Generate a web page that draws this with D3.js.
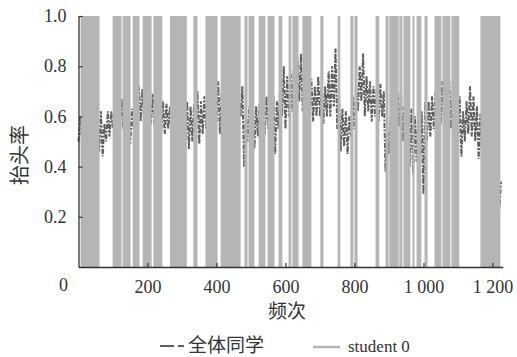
<!DOCTYPE html>
<html>
<head>
<meta charset="utf-8">
<script src="https://cdn.jsdelivr.net/npm/d3@7"></script>
<style>
  body { margin: 0; background: #fff; }
  svg text { fill: #333; }
</style>
</head>
<body>
<svg id="chart" width="517" height="357"></svg>
<script>
// student 0: frame ranges where the 0/1 signal is on (drawn as filled bands)
const studentOn = [
  [6, 61], [99, 125], [128, 151], [157, 177], [186, 212], [217, 243],
  [265, 314], [333, 345], [368, 403], [412, 470], [481, 490], [493, 510],
  [522, 542], [548, 568], [580, 591], [609, 617], [620, 638], [649, 675],
  [701, 710], [751, 759], [788, 797], [800, 809], [861, 872], [890, 899],
  [901, 928], [930, 939], [942, 962], [968, 974], [980, 994], [1003, 1012],
  [1032, 1052], [1055, 1078], [1081, 1104], [1165, 1223]
];

// class average (全体同学): low / high reading per 10-frame bin
const meanFrame = d3.range(0, 1230, 10);
const meanLo = [
  .50, .50, .50, .50, .50, .50, .46, .44, .50, .52,
  .55, .55, .55, .55, .52, .49, .55, .58, .58, .58,
  .58, .57, .56, .55, .54, .53, .55, .52, .52, .52,
  .52, .50, .47, .50, .52, .49, .53, .55, .55, .55,
  .58, .53, .55, .55, .55, .55, .55, .60, .40, .50,
  .47, .47, .52, .52, .53, .55, .47, .45, .55, .60,
  .55, .60, .62, .65, .66, .62, .62, .60, .58, .60,
  .60, .57, .60, .60, .64, .55, .46, .48, .45, .52,
  .55, .62, .66, .60, .62, .58, .60, .58, .60, .38,
  .45, .50, .56, .56, .50, .45, .40, .37, .42, .40,
  .29, .50, .52, .55, .56, .57, .55, .57, .55, .55,
  .50, .44, .50, .53, .52, .50, .43, .42, .40, .36,
  .33, .30, .23
];
const meanHi = [
  .60, .60, .60, .60, .60, .60, .62, .57, .62, .62,
  .63, .65, .67, .65, .64, .63, .68, .72, .71, .70,
  .68, .69, .66, .66, .66, .65, .64, .65, .65, .65,
  .65, .66, .64, .65, .70, .66, .68, .70, .70, .70,
  .74, .70, .68, .68, .68, .68, .68, .72, .61, .64,
  .66, .64, .65, .66, .68, .68, .68, .66, .75, .80,
  .76, .78, .80, .83, .85, .78, .78, .75, .72, .76,
  .72, .72, .78, .80, .87, .70, .63, .62, .60, .68,
  .72, .80, .85, .76, .74, .72, .72, .73, .70, .56,
  .60, .62, .70, .70, .64, .62, .63, .60, .62, .62,
  .66, .66, .68, .70, .72, .74, .72, .74, .70, .70,
  .68, .62, .66, .72, .68, .64, .61, .58, .55, .50,
  .45, .40, .34
];

const xTicks = [200, 400, 600, 800, 1000, 1200];
const yTicks = [0.2, 0.4, 0.6, 0.8, 1.0];

const darkColor = "#5e5e5e";
const lightColor = "#b5b5b5";

const svg = d3.select("#chart");

const x = d3.scaleLinear().domain([0, 1230]).range([78.5, 502.8]);
const y = d3.scaleLinear().domain([0, 1]).range([267, 16]);

// class average line, zigzag between low and high readings
const meanPts = [];
meanFrame.forEach((f, i) => {
  meanPts.push([f, meanLo[i]]);
  meanPts.push([f + 5, meanHi[i]]);
});

svg.append("path")
  .datum(meanPts)
  .attr("fill", "none")
  .attr("stroke", darkColor)
  .attr("stroke-width", 2)
  .attr("stroke-dasharray", "5,1.5,2,1.5")
  .attr("d", d3.line()
    .x(d => x(d[0]))
    .y(d => y(d[1])));

// student 0 bands
svg.selectAll("rect.student")
  .data(studentOn)
  .enter()
  .append("rect")
  .attr("class", "student")
  .attr("fill", lightColor)
  .attr("x", d => x(d[0]))
  .attr("width", d => x(d[1]) - x(d[0]))
  .attr("y", y(1))
  .attr("height", y(0) - y(1));

// axes
const xAxis = svg.append("g")
  .attr("transform", "translate(0," + y(0) + ")")
  .call(d3.axisBottom(x)
    .tickValues(xTicks)
    .tickSizeInner(-4)
    .tickSizeOuter(0)
    .tickPadding(13)
    .tickFormat(d => d >= 1000 ? d3.format(",")(d).replace(",", " ") : d));

const yAxis = svg.append("g")
  .attr("transform", "translate(" + x(0) + ",0)")
  .call(d3.axisLeft(y)
    .tickValues(yTicks)
    .tickSizeInner(-4)
    .tickSizeOuter(0)
    .tickPadding(12)
    .tickFormat(d3.format(".1f")));

[xAxis, yAxis].forEach(g => {
  g.select(".domain").attr("stroke", "#333").attr("stroke-width", 1.3);
  g.selectAll(".tick line").attr("stroke", "#333").attr("stroke-width", 1.2);
  g.selectAll(".tick text")
    .style("font-family", "'Liberation Serif', 'Times New Roman', serif")
    .style("font-size", "18px")
    .style("fill", "#333");
});

// origin label
svg.append("text")
  .attr("x", x(0) - 10.5)
  .attr("y", 291)
  .attr("text-anchor", "end")
  .style("font-family", "'Liberation Serif', serif")
  .style("font-size", "18px")
  .text("0");

// axis titles
svg.append("text")
  .attr("x", 287)
  .attr("y", 318)
  .attr("text-anchor", "middle")
  .style("font-family", "'Noto Sans CJK SC', sans-serif")
  .style("font-size", "19px")
  .text("频次");

svg.append("text")
  .attr("transform", "translate(27,155) rotate(-90)")
  .attr("text-anchor", "middle")
  .style("font-family", "'Noto Sans CJK SC', sans-serif")
  .style("font-size", "20px")
  .text("抬头率");

// legend
const legend = svg.append("g");
legend.append("line")
  .attr("x1", 160).attr("x2", 184)
  .attr("y1", 346).attr("y2", 346)
  .attr("stroke", darkColor)
  .attr("stroke-width", 2)
  .attr("stroke-dasharray", "14,4,6,100");
legend.append("text")
  .attr("x", 188).attr("y", 352)
  .style("font-family", "'Noto Sans CJK SC', sans-serif")
  .style("font-size", "19px")
  .text("全体同学");
legend.append("line")
  .attr("x1", 313).attr("x2", 340)
  .attr("y1", 347).attr("y2", 347)
  .attr("stroke", lightColor)
  .attr("stroke-width", 2.5);
legend.append("text")
  .attr("x", 348).attr("y", 352)
  .style("font-family", "'Liberation Serif', serif")
  .style("font-size", "17px")
  .text("student 0");
</script>
</body>
</html>
